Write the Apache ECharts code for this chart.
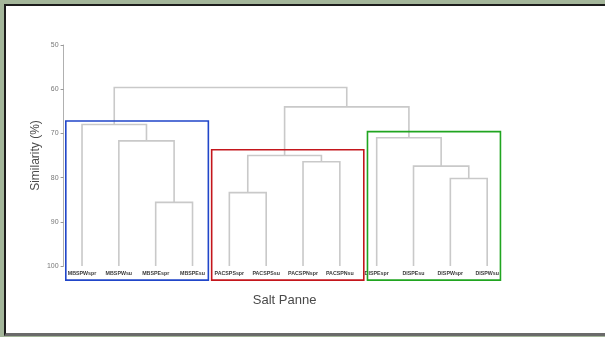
<!DOCTYPE html>
<html>
<head>
<meta charset="utf-8">
<script src="https://cdn.jsdelivr.net/npm/echarts@6/dist/echarts.min.js"></script>
<style>
    html, body {margin: 0; padding: 0; width: 605px; height: 337px; overflow: hidden;
        background: #a4b69a;}
    #frame {position: absolute; left: 4px; top: 4px; width: 610px; height: 327px;
        background: #fff; border-left: 2px solid #1c1c1c; border-top: 2px solid #1c1c1c;
        border-bottom: 3px solid #6a6a6a;}
    #chart {position: absolute; left: 0; top: 0; width: 605px; height: 337px;}
</style>
</head>
<body>
<div id="frame"></div>
<div id="chart"></div>
<script>
// leaves of the dendrogram, left to right
const leaves = ['MBSPWspr', 'MBSPWsu', 'MBSPEspr', 'MBSPEsu',
    'PACSPSspr', 'PACSPSsu', 'PACSPNspr', 'PACSPNsu',
    'DISPEspr', 'DISPEsu', 'DISPWspr', 'DISPWsu'];

// merges: [childA, childB, similarity %]; ids 0..11 are leaves, 12+ are earlier merges
const mergeA = [2, 1, 0, 4, 6, 15, 10, 9, 8, 17, 14];
const mergeB = [3, 12, 13, 5, 7, 16, 11, 18, 19, 20, 21];
const mergeSim = [85.6, 71.7, 68.0, 83.4, 76.4, 75.0, 80.2, 77.4, 71.0, 64.0, 59.6];

const yTicks = [50, 60, 70, 80, 90, 100];

// highlighted groups: first leaf, last leaf, colour
const groupFrom = [0, 4, 8];
const groupTo = [3, 7, 11];
const groupColor = ['#2146c9', '#c4161c', '#20a520'];

// node positions (leaf index axis) and heights
let nodeX = leaves.map((d, i) => i);
let nodeH = leaves.map(() => 100);
let links = [];
mergeSim.forEach((h, i) => {
    let a = mergeA[i], b = mergeB[i];
    links.push([nodeX[a], nodeH[a], nodeX[b], nodeH[b], h]);
    nodeX.push((nodeX[a] + nodeX[b]) / 2);
    nodeH.push(h);
});

// box extents around the groups (padding in leaf units / similarity units)
const boxPadL = [0.44, 0.48, 0.25];
const boxPadR = [0.43, 0.65, 0.36];
const boxPadTop = [0.8, 1.3, 1.4];
let boxes = groupFrom.map((f, i) => {
    let top = 100;
    links.forEach(l => {
        if (l[0] >= f && l[2] <= groupTo[i]) top = Math.min(top, l[4]);
    });
    return [f - boxPadL[i], groupTo[i] + boxPadR[i], top - boxPadTop[i], 103.2, i];
});

let myChart = echarts.init(document.getElementById('chart'), null, {renderer: 'canvas'});
myChart.setOption({
    animation: false,
    grid: {left: 63.6, right: 99.4, top: 45, bottom: 71},
    xAxis: [
        {
            type: 'category',
            data: leaves,
            name: 'Salt Panne',
            nameLocation: 'middle',
            nameGap: 28,
            nameTextStyle: {fontFamily: 'Liberation Sans', fontSize: 13, color: '#4a4a4a'},
            axisLine: {show: false},
            axisTick: {show: false},
            splitLine: {show: false},
            axisLabel: {
                interval: 0, margin: 5,
                fontFamily: 'Liberation Sans', fontSize: 5.3, fontWeight: 'bold', color: '#3a3a3a'
            }
        },
        {
            type: 'value', min: -0.5, max: 11.5, show: false
        }
    ],
    yAxis: {
        type: 'value',
        inverse: true,
        min: 50, max: 100, interval: 10,
        name: 'Similarity (%)',
        nameLocation: 'middle',
        nameGap: 22,
        nameMoveOverlap: false,
        nameTextStyle: {fontFamily: 'Liberation Sans', fontSize: 12, color: '#4a4a4a'},
        axisLine: {show: true, onZero: false, lineStyle: {color: '#b0b0b0', width: 1}},
        axisTick: {show: true, length: 3, lineStyle: {color: '#999'}},
        splitLine: {show: false},
        axisLabel: {
            margin: 5, fontFamily: 'Liberation Sans', fontSize: 7, color: '#777',
            formatter: v => yTicks.indexOf(v) >= 0 ? String(v) : ''
        }
    },
    series: [
        {
            type: 'custom',
            xAxisIndex: 1,
            data: links,
            renderItem: (params, api) => {
                let p1 = api.coord([api.value(0), api.value(1)]);
                let p2 = api.coord([api.value(0), api.value(4)]);
                let p3 = api.coord([api.value(2), api.value(4)]);
                let p4 = api.coord([api.value(2), api.value(3)]);
                return {
                    type: 'polyline',
                    shape: {points: [p1, p2, p3, p4]},
                    style: {stroke: '#c9c9c9', lineWidth: 1.6, fill: null}
                };
            }
        },
        {
            type: 'custom',
            xAxisIndex: 1,
            clip: false,
            data: boxes,
            renderItem: (params, api) => {
                let tl = api.coord([api.value(0), api.value(2)]);
                let br = api.coord([api.value(1), api.value(3)]);
                return {
                    type: 'rect',
                    shape: {x: tl[0], y: tl[1], width: br[0] - tl[0], height: br[1] - tl[1]},
                    style: {stroke: groupColor[api.value(4)], lineWidth: 1.6, fill: null}
                };
            }
        }
    ]
});
</script>
</body>
</html>
